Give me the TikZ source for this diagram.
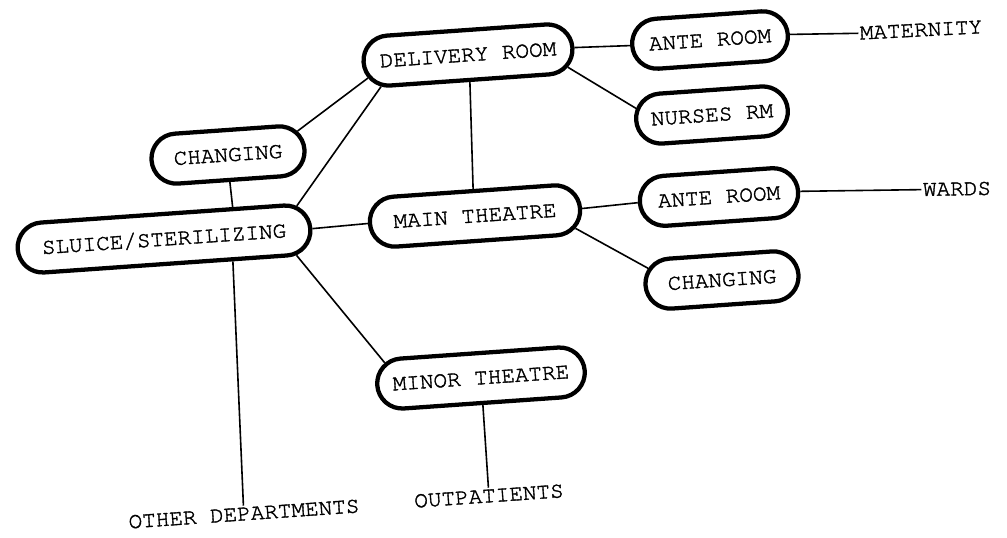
\documentclass[tikz,border=0pt]{standalone}
\usepackage{fontspec}
\setmonofont[FakeBold=1.6]{texgyrecursor-regular.otf}
\usetikzlibrary{shapes.misc}
\tikzset{
  room/.style={rounded rectangle,draw,line width=3.2pt,minimum height=37.5pt,%
    inner sep=2pt,rotate=4,font=\fontsize{17}{20}\selectfont\ttfamily},
  exit/.style={inner sep=1pt,rotate=4,font=\fontsize{17}{20}\selectfont\ttfamily},
  link/.style={line width=1.2pt},
}
\begin{document}
\begin{tikzpicture}[x=0.75pt,y=-0.75pt]
\useasboundingbox (0,0) rectangle (1007,537);
\node[room,minimum width=161pt] (deliv) at (468,55) {DELIVERY ROOM};
\node[room,minimum width=121pt] (anteM) at (710,40) {ANTE ROOM};
\node[room,minimum width=118pt] (nurses) at (712,115) {NURSES RM};
\node[room,minimum width=119pt] (chgS) at (228,155) {CHANGING};
\node[room,minimum width=224pt] (sluice) at (164,239) {SLUICE/STERILIZING};
\node[room,minimum width=162pt] (mainth) at (475,216) {MAIN THEATRE};
\node[room,minimum width=123pt] (anteW) at (719,197) {ANTE ROOM};
\node[room,minimum width=119pt] (chgM) at (722,280) {CHANGING};
\node[room,minimum width=160pt] (minor) at (481,378) {MINOR THEATRE};
\node[exit,rotate=-1] (mat) at (921,30) {MATERNITY};
\node[exit,rotate=-3] (wards) at (957,189) {WARDS};
\node[exit] (outp) at (489,496) {OUTPATIENTS};
\node[exit] (other) at (244,514) {OTHER DEPARTMENTS};
\draw[link] (chgS.15) -- (deliv.189);
\draw[link] (sluice.10) -- (deliv.196);
\draw[link] (chgS.south) -- (sluice.21);
\draw[link] (sluice.east) -- (mainth.west);
\draw[link] (sluice.349) -- (minor.167);
\draw[link] (sluice.338) -- (other.north);
\draw[link] (deliv.south) -- (mainth.north);
\draw[link] (deliv.east) -- (anteM.west);
\draw[link] (deliv.349) -- (nurses.171);
\draw[link] (anteM.east) -- (mat.west);
\draw[link] (mainth.east) -- (anteW.west);
\draw[link] (anteW.east) -- (wards.west);
\draw[link] (mainth.349) -- (chgM.167);
\draw[link] (minor.south) -- (outp.north);
\end{tikzpicture}
\end{document}
